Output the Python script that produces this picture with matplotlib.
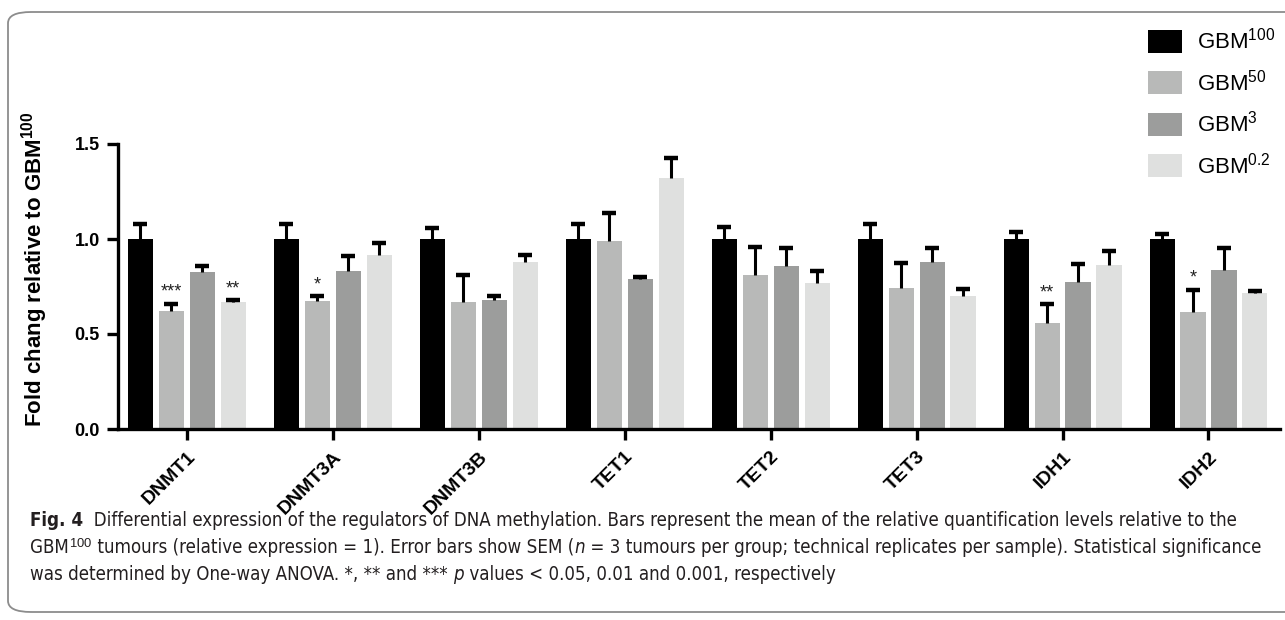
import matplotlib
matplotlib.use("Agg")
import matplotlib.pyplot as plt
import numpy as np
from matplotlib import font_manager
from matplotlib.patches import FancyBboxPatch, Patch

genes = ["DNMT1", "DNMT3A", "DNMT3B", "TET1", "TET2", "TET3", "IDH1", "IDH2"]
groups = ["GBM$^{100}$", "GBM$^{50}$", "GBM$^{3}$", "GBM$^{0.2}$"]
gbm100 = [1.00, 1.00, 1.00, 1.00, 1.00, 1.00, 1.00, 1.00]
gbm50 = [0.62, 0.675, 0.67, 0.99, 0.81, 0.74, 0.56, 0.615]
gbm3 = [0.825, 0.83, 0.68, 0.79, 0.857, 0.88, 0.776, 0.837]
gbm02 = [0.67, 0.915, 0.88, 1.32, 0.767, 0.70, 0.864, 0.715]
err100 = [0.08, 0.08, 0.06, 0.08, 0.063, 0.077, 0.037, 0.024]
err50 = [0.04, 0.025, 0.14, 0.145, 0.147, 0.133, 0.098, 0.118]
err3 = [0.032, 0.083, 0.02, 0.01, 0.096, 0.074, 0.093, 0.116]
err02 = [0.01, 0.065, 0.037, 0.107, 0.062, 0.038, 0.073, 0.01]
# significance marks: (gene index, group index, label)
sig_gene = [0, 0, 1, 6, 7]
sig_group = [1, 3, 1, 1, 1]
sig_text = ["***", "**", "*", "**", "*"]

colors = ["#000000", "#b8b9b8", "#9c9d9c", "#dfe0df"]

available = {f.name for f in font_manager.fontManager.ttflist}
main_font = "Liberation Sans" if "Liberation Sans" in available else "DejaVu Sans"
cap_font = "Liberation Sans Narrow" if "Liberation Sans Narrow" in available else "DejaVu Sans"

plt.rcParams["font.family"] = [main_font, "DejaVu Sans"]
plt.rcParams["mathtext.fontset"] = "custom"
plt.rcParams["mathtext.rm"] = main_font
plt.rcParams["mathtext.bf"] = main_font + ":bold"
plt.rcParams["mathtext.it"] = main_font + ":italic"

W, H = 1285, 620
fig = plt.figure(figsize=(W / 100, H / 100), dpi=100)

# rounded frame
frame = FancyBboxPatch((8 / W, 1 - 612 / H), (W + 20) / W, 600 / H,
                       boxstyle="round,pad=0,rounding_size=0.018",
                       transform=fig.transFigure, fill=False,
                       edgecolor="#8c8c8c", linewidth=1.3, zorder=0)
fig.patches.append(frame)

ax = fig.add_axes([118 / W, 1 - 429 / H, (1280 - 118) / W, (429 - 144) / H])

values = [gbm100, gbm50, gbm3, gbm02]
errs = [err100, err50, err3, err02]
x = np.arange(len(genes))
step = 0.212
width = 0.172
for i, (vals, er) in enumerate(zip(values, errs)):
    pos = x + (i - 1.5) * step
    vals = np.array(vals)
    er = np.array(er)
    ax.bar(pos, vals, width=width, color=colors[i], edgecolor="none", zorder=2,
           label=groups[i])
    ax.vlines(pos, vals, vals + er, color="black", linewidth=2.2, zorder=3)
    ax.plot(pos, vals + er, ls="none", marker="_", markersize=9.5,
            markeredgewidth=3.2, color="black", zorder=3)

for g, k, t in zip(sig_gene, sig_group, sig_text):
    pos = x[g] + (k - 1.5) * step
    top = values[k][g] + errs[k][g]
    ax.annotate(t, (pos, top), xytext=(0, 2), textcoords="offset points",
                ha="center", va="bottom", fontsize=13, color="#222222")

ax.set_xlim(-0.472, 7.49)
ax.set_ylim(0, 1.5)
ax.set_yticks([0, 0.5, 1.0, 1.5])
ax.set_yticklabels(["0.0", "0.5", "1.0", "1.5"], fontsize=13, fontweight="bold")
ax.set_xticks(x)
ax.set_xticklabels(genes, rotation=45, ha="right", va="top", rotation_mode="anchor",
                   fontsize=14, fontweight="bold")
for s in ["top", "right"]:
    ax.spines[s].set_visible(False)
for s in ["left", "bottom"]:
    ax.spines[s].set_linewidth(2.4)
ax.tick_params(axis="both", length=8, width=2.4, direction="out")
ax.tick_params(axis="y", pad=5)
ax.tick_params(axis="x", pad=6)
ax.set_ylabel(r"Fold chang relative to $\mathbf{GBM^{100}}$", fontsize=16,
              fontweight="bold")
ax.yaxis.set_label_coords(-0.0585, 0.56)

handles = [Patch(facecolor=c, edgecolor="none") for c in colors]
fig.legend(handles, groups, loc="upper left", bbox_to_anchor=(1148 / W, 1 - 28 / H),
           frameon=False, fontsize=16, handlelength=1.55, handleheight=1.2,
           handletextpad=0.65, labelspacing=0.7, borderpad=0, borderaxespad=0)

# caption
fig.canvas.draw()
renderer = fig.canvas.get_renderer()
CAP_KW = dict(family=[cap_font, "DejaVu Sans"], fontstretch="condensed")

def seq_text(pieces, x0, y0, size):
    xp = x0
    for txt, weight, style in pieces:
        t = fig.text(xp / W, 1 - y0 / H, txt, fontsize=size, fontweight=weight,
                     fontstyle=style, va="baseline", ha="left", color="#231f20",
                     **CAP_KW)
        bb = t.get_window_extent(renderer)
        xp += bb.width
    return xp

line2 = [("GBM", "normal", "normal"), ("$^{100}$", "normal", "normal"),
         (" tumours (relative expression = 1). Error bars show SEM (", "normal", "normal"),
         ("n", "normal", "italic"),
         (" = 3 tumours per group; technical replicates per sample). Statistical significance", "normal", "normal")]
test = fig.text(0, 0, "".join(p[0] for p in line2).replace("$^{100}$", "100"),
                fontsize=10, **CAP_KW)
wtest = test.get_window_extent(renderer).width
test.remove()
size = 10 * (1262 - 30) / wtest * 1.01
size = min(size, 13.5)

seq_text([("Fig. 4", "bold", "normal"),
          ("  Differential expression of the regulators of DNA methylation. Bars represent the mean of the relative quantification levels relative to the", "normal", "normal")],
         30, 526, size)
seq_text(line2, 30, 553, size)
seq_text([("was determined by One-way ANOVA. *, ** and *** ", "normal", "normal"),
          ("p", "normal", "italic"),
          (" values < 0.05, 0.01 and 0.001, respectively", "normal", "normal")],
         30, 580, size)

fig.savefig("out.png", dpi=100)
